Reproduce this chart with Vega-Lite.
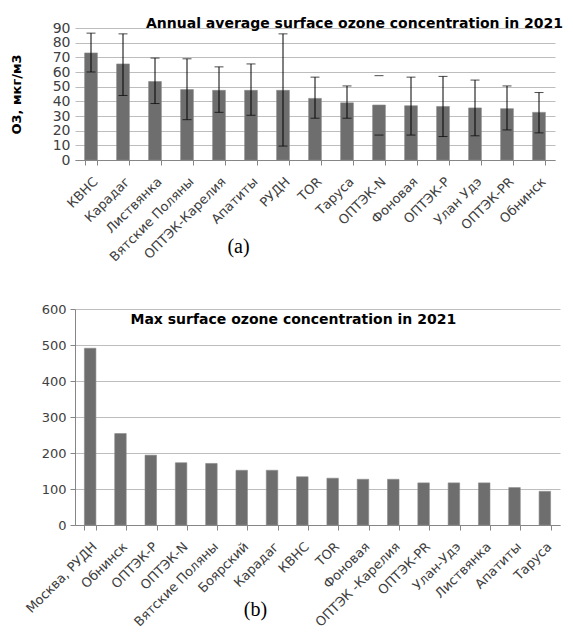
{
  "$schema": "https://vega.github.io/schema/vega-lite/v6.json",
  "padding": {"left": 10, "top": 17, "right": 5, "bottom": 5},
  "background": "white",
  "spacing": 39,
  "align": "none",
  "config": {
    "view": {"stroke": null},
    "font": "DejaVu Sans",
    "axis": {"labelColor": "#404040", "gridColor": "#bdbdbd", "domainColor": "#868686", "tickColor": "#868686", "labelFont": "DejaVu Sans"}
  },
  "vconcat": [
    {
      "width": 480,
      "height": 132,
      "title": {"text": "Annual average surface ozone concentration in 2021", "anchor": "end", "orient": "top", "offset": -10, "dx": 8, "fontSize": 14, "fontWeight": "bold", "color": "black", "font": "DejaVu Sans"},
      "data": {"values": [
        {"site": "КВНС", "mean": 73, "lo": 60, "hi": 86.5},
        {"site": "Карадаг", "mean": 65.5, "lo": 44, "hi": 86},
        {"site": "Листвянка", "mean": 53.5, "lo": 38.5, "hi": 69.5},
        {"site": "Вятские Поляны", "mean": 48, "lo": 27.5, "hi": 69},
        {"site": "ОПТЭК-Карелия", "mean": 47.5, "lo": 32.5, "hi": 63.5},
        {"site": "Апатиты", "mean": 47.5, "lo": 30.5, "hi": 65.5},
        {"site": "РУДН", "mean": 47.5, "lo": 9.5, "hi": 86},
        {"site": "TOR", "mean": 42, "lo": 28.5, "hi": 56.5},
        {"site": "Таруса", "mean": 39, "lo": 28.5, "hi": 50.5},
        {"site": "ОПТЭК-N", "mean": 37.5, "lo": 17, "hi": 57.5},
        {"site": "Фоновая", "mean": 37, "lo": 17, "hi": 56.5},
        {"site": "ОПТЭК-Р", "mean": 36.5, "lo": 16, "hi": 57},
        {"site": "Улан Удэ", "mean": 35.5, "lo": 16.5, "hi": 54.5},
        {"site": "ОПТЭК-PR", "mean": 35, "lo": 20.5, "hi": 50.5},
        {"site": "Обнинск", "mean": 32.5, "lo": 18.5, "hi": 46}
      ]},
      "encoding": {
        "x": {"field": "site", "type": "nominal", "sort": null,
          "scale": {"paddingInner": 0.6, "paddingOuter": 0.3},
          "axis": {"title": "(a)", "titleFont": "Liberation Serif", "titleFontSize": 20, "titleFontWeight": "normal", "titleColor": "black", "titleX": 163, "titlePadding": -27,
            "labelAngle": -45, "labelFontSize": 13, "labelPadding": 10, "tickBand": "extent", "tickSize": 5}}
      },
      "layer": [
        {"mark": {"type": "bar", "color": "#6e6e6e", "stroke": "#8a8a8a", "strokeWidth": 0.6},
         "encoding": {"y": {"field": "mean", "type": "quantitative",
           "scale": {"domain": [0, 90]},
           "axis": {"title": "O3, мкг/м3", "titleFontSize": 13, "titleFontWeight": "bold", "titleColor": "black", "titlePadding": 29,
             "values": [0,10,20,30,40,50,60,70,80,90], "labelOverlap": false, "grid": true, "labelFontSize": 14, "domain": false, "ticks": false, "labelPadding": 5}}}},
        {"transform": [{"filter": "datum.site !== 'ОПТЭК-N'"}],
         "mark": {"type": "rule", "color": "black", "strokeWidth": 1},
         "encoding": {"y": {"field": "lo", "type": "quantitative",
           "axis": {"title": "O3, мкг/м3", "titleFontSize": 13, "titleFontWeight": "bold", "titleColor": "black", "titlePadding": 29,
             "values": [0,10,20,30,40,50,60,70,80,90], "labelOverlap": false, "grid": true, "labelFontSize": 14, "domain": false, "ticks": false, "labelPadding": 5}},
           "y2": {"field": "hi"}}},
        {"mark": {"type": "tick", "color": "black", "thickness": 1, "size": 9},
         "encoding": {"y": {"field": "lo", "type": "quantitative",
           "axis": {"title": "O3, мкг/м3", "titleFontSize": 13, "titleFontWeight": "bold", "titleColor": "black", "titlePadding": 29,
             "values": [0,10,20,30,40,50,60,70,80,90], "labelOverlap": false, "grid": true, "labelFontSize": 14, "domain": false, "ticks": false, "labelPadding": 5}}}},
        {"mark": {"type": "tick", "color": "black", "thickness": 1, "size": 9},
         "encoding": {"y": {"field": "hi", "type": "quantitative",
           "axis": {"title": "O3, мкг/м3", "titleFontSize": 13, "titleFontWeight": "bold", "titleColor": "black", "titlePadding": 29,
             "values": [0,10,20,30,40,50,60,70,80,90], "labelOverlap": false, "grid": true, "labelFontSize": 14, "domain": false, "ticks": false, "labelPadding": 5}}}}
      ]
    },
    {
      "width": 485,
      "height": 216,
      "data": {"values": [
        {"site": "Москва, РУДН", "max": 491},
        {"site": "Обнинск", "max": 254},
        {"site": "ОПТЭК-Р", "max": 194},
        {"site": "ОПТЭК-N", "max": 173},
        {"site": "Вятские Поляны", "max": 171},
        {"site": "Боярский", "max": 152},
        {"site": "Карадаг", "max": 152},
        {"site": "КВНС", "max": 134},
        {"site": "TOR", "max": 130},
        {"site": "Фоновая", "max": 127},
        {"site": "ОПТЭК -Карелия", "max": 127},
        {"site": "ОПТЭК-PR", "max": 117},
        {"site": "Улан-Удэ", "max": 117},
        {"site": "Листвянка", "max": 117},
        {"site": "Апатиты", "max": 104},
        {"site": "Таруса", "max": 93.5}
      ]},
      "encoding": {
        "x": {"field": "site", "type": "nominal", "sort": null,
          "scale": {"paddingInner": 0.62, "paddingOuter": 0.31},
          "axis": {"title": "(b)", "titleFont": "Liberation Serif", "titleFontSize": 20, "titleFontWeight": "normal", "titleColor": "black", "titleX": 180, "titlePadding": -30,
            "labelAngle": -45, "labelFontSize": 13, "labelPadding": 10, "tickBand": "extent", "tickSize": 5}}
      },
      "layer": [
        {"mark": {"type": "bar", "color": "#6e6e6e", "stroke": "#8a8a8a", "strokeWidth": 0.6},
         "encoding": {"y": {"field": "max", "type": "quantitative",
          "scale": {"domain": [0, 600]},
          "axis": {"title": null, "values": [0,100,200,300,400,500,600], "labelOverlap": false, "grid": true, "labelFontSize": 13, "tickSize": 5, "labelPadding": 4}}}},
        {"transform": [{"filter": "datum.site === 'Обнинск'"}],
         "mark": {"type": "text", "text": "Max surface ozone concentration in 2021", "align": "left", "baseline": "alphabetic", "dx": 10, "fontSize": 14, "fontWeight": "bold", "color": "black", "font": "DejaVu Sans"},
         "encoding": {"y": {"datum": 558, "type": "quantitative",
           "axis": {"title": null, "values": [0,100,200,300,400,500,600], "labelOverlap": false, "grid": true, "labelFontSize": 13, "tickSize": 5, "labelPadding": 4}}}}
      ]
    }
  ]
}
